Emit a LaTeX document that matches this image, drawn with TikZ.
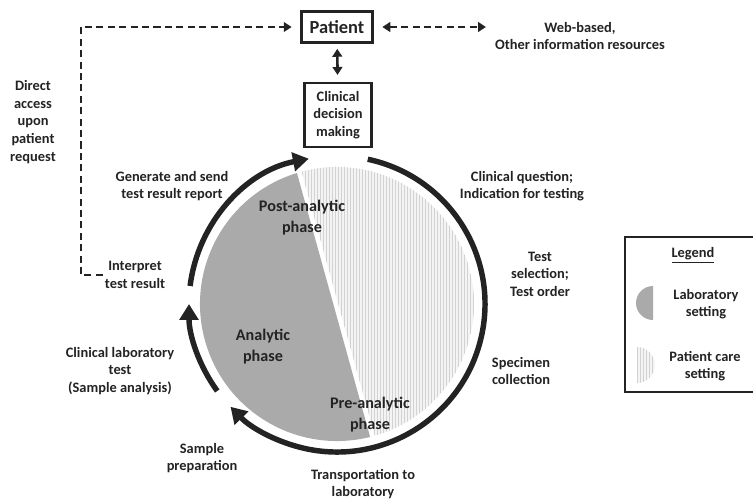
\documentclass[tikz,border=0pt]{standalone}
\usepackage{fontspec}
\setmainfont{Carlito}
\usetikzlibrary{arrows.meta}
\definecolor{labgray}{RGB}{170,170,170}
\definecolor{txt}{RGB}{35,35,35}
\definecolor{hatchline}{RGB}{210,210,210}
\definecolor{hatchbg}{RGB}{244,244,244}

\begin{document}
\begin{tikzpicture}[
  x=0.2mm, y=0.2mm,
  every node/.style={text=txt, font=\fontsize{8.2}{10}\selectfont\bfseries, align=center, inner sep=1pt},
  box/.style={draw=txt, line width=1.2pt, inner sep=3pt},
  phase/.style={font=\fontsize{9.2}{12}\selectfont\bfseries},
  smalltip/.tip={Triangle[length=4.5pt,width=5.5pt]},
  dashline/.style={txt, line width=1.3pt, dash pattern=on 4pt off 2.5pt, -smalltip},
  ring/.style={txt, line width=3.1pt, -{Triangle[length=9pt,width=10.5pt]}},
  hatch/.style={hatchline, line width=0.5pt}
]
\useasboundingbox (0,0) rectangle (753,-501);
\coordinate (c) at (337,-304);

% the two settings
\fill[labgray] (c) ++(107:137) arc[start angle=107, end angle=284, radius=137] -- cycle;
\begin{scope}
  \clip (c) ++(-74:137) arc[start angle=-74, end angle=105, radius=137] -- cycle;
  \fill[hatchbg] (290,-160) rectangle (480,-450);
  \foreach \hx in {290,293,...,480} \draw[hatch] (\hx,-160) -- (\hx,-450);
\end{scope}

% cycle arrows
\draw[ring] (c) ++(78:148) arc[start angle=78, end angle=-136, radius=148];
\draw[ring] (c) ++(-144:148) arc[start angle=-144, end angle=-180, radius=148];
\draw[ring] (c) ++(173:148) arc[start angle=173, end angle=101, radius=148];

\node[box, font=\fontsize{10.5}{12}\selectfont\bfseries, minimum width=14.2mm, minimum height=6.2mm] (patient) at (337,-27) {Patient};
\node[box, minimum width=13.4mm, minimum height=12.8mm] (decision) at (338,-115) {Clinical\\decision\\making};
\node (web) at (580,-36) {Web-based,\\Other information resources};
\node (direct) at (33,-122) {Direct\\access\\upon\\patient\\request};
\node (report) at (172,-186) {Generate and send\\test result report};
\node[phase] (post) at (302,-218) {Post-analytic\\phase};
\node (interp) at (135,-275) {Interpret\\test result};
\node[phase] (analytic) at (263,-347) {Analytic\\phase};
\node (labtest) at (120,-371) {Clinical laboratory\\test\\(Sample analysis)};
\node[phase] (pre) at (370,-415) {Pre-analytic\\phase};
\node (prep) at (202,-458) {Sample\\preparation};
\node (transport) at (363,-484) {Transportation to\\laboratory};
\node (question) at (522,-186) {Clinical question;\\Indication for testing};
\node (order) at (540,-274) {Test\\selection;\\Test order};
\node (collect) at (521,-371) {Specimen\\collection};

\draw[dashline] (interp.west) -- ++(-22,0) |- ([xshift=-5pt]patient.west);
\draw[dashline, smalltip-smalltip] ([xshift=5pt]patient.east) -- ([xshift=-4pt]web.west |- patient.east);
\draw[txt, line width=1.5pt, smalltip-smalltip, shorten <=3pt, shorten >=4pt] (patient) -- (decision);

% legend
\draw[txt, line width=1.2pt] (625,-237) rectangle (758,-392);
\node (legtitle) at (693,-255) {\underline{Legend}};
\fill[labgray] (653,-286) arc[start angle=90, end angle=270, radius=17] -- cycle;
\node (labset) at (706,-304) {Laboratory\\setting};
\begin{scope}
  \clip (637,-347) arc[start angle=90, end angle=-90, radius=18] -- cycle;
  \fill[hatchbg] (636,-346) rectangle (656,-384);
  \foreach \hx in {637,640,...,656} \draw[hatch] (\hx,-346) -- (\hx,-384);
\end{scope}
\node (careset) at (705,-366) {Patient care\\setting};
\end{tikzpicture}
\end{document}
